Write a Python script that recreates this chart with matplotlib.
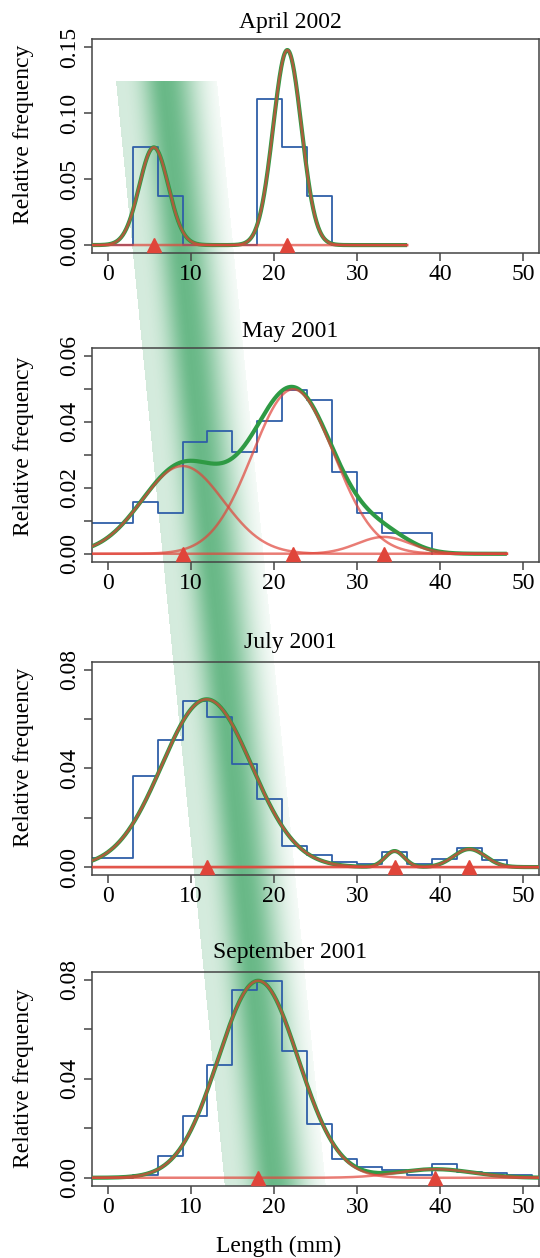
import numpy as np
import matplotlib
matplotlib.use("Agg")
import matplotlib.pyplot as plt

plt.rcParams["font.family"] = ["Liberation Serif", "DejaVu Serif"]

BIN_WIDTH = 3
titles = ["April 2002", "May 2001", "July 2001", "September 2001"]

# relative frequency of each 3 mm length class, first class starts at *_start
april_start = 0
april_freq = [0.0, 0.0742, 0.0374, 0.0, 0.0, 0.0, 0.111, 0.0742, 0.0374]
may_start = -3
may_freq = [0.0094, 0.0094, 0.0157, 0.0123, 0.0340, 0.0372, 0.0310, 0.0403,
            0.0496, 0.0465, 0.0249, 0.0124, 0.0063, 0.0063]
july_start = -3
july_freq = [0.0038, 0.0038, 0.0367, 0.0515, 0.0672, 0.0608, 0.0418, 0.0277,
             0.0085, 0.0047, 0.0020, 0.0011, 0.0061, 0.0011, 0.0032, 0.0078,
             0.0027, 0.0004]
sept_start = -3
sept_freq = [0.0, 0.0, 0.0010, 0.0088, 0.0248, 0.0455, 0.0757, 0.0793, 0.0510,
             0.0218, 0.0075, 0.0043, 0.0031, 0.0010, 0.0054, 0.0022, 0.0019,
             0.0010]

# fitted normal components (mean, sd, proportion)
april_means = [5.55, 21.6]
april_sds = [1.75, 1.7]
april_props = [0.325, 0.63]
may_means = [9.0, 22.3, 33.2]
may_sds = [4.9, 4.9, 3.2]
may_props = [0.327, 0.613, 0.041]
july_means = [11.9, 34.5, 43.5]
july_sds = [5.4, 1.15, 1.9]
july_props = [0.920, 0.0187, 0.0348]
sept_means = [18.1, 39.4]
sept_sds = [4.8, 4.5]
sept_props = [0.957, 0.039]

curve_end = [36, 48, 53, 53]

y_limits = [(-0.006, 0.156), (-0.0024, 0.0625), (-0.0032, 0.0832), (-0.0032, 0.0832)]
y_ticks = [[0, 0.05, 0.10, 0.15],
           [0, 0.01, 0.02, 0.03, 0.04, 0.05, 0.06],
           [0, 0.02, 0.04, 0.06, 0.08],
           [0, 0.02, 0.04, 0.06, 0.08]]
y_ticklabels = [["0.00", "0.05", "0.10", "0.15"],
                ["0.00", "", "0.02", "", "0.04", "", "0.06"],
                ["0.00", "", "0.04", "", "0.08"],
                ["0.00", "", "0.04", "", "0.08"]]

panels = [
    (april_start, april_freq, april_means, april_sds, april_props),
    (may_start, may_freq, may_means, may_sds, may_props),
    (july_start, july_freq, july_means, july_sds, july_props),
    (sept_start, sept_freq, sept_means, sept_sds, sept_props),
]

W, H = 540, 1258
BLUE = "#2f5fa8"
GREEN = "#2e9a44"
RED = "#e0453a"
AXC = "#444444"

# panel boxes in pixels (top, bottom)
boxes = [(39.3, 253.0), (347.7, 561.7), (661.7, 875.0), (971.7, 1185.7)]
title_base = [28.3, 336.7, 648.3, 958.3]
ylab_mid = [134, 446, 757.5, 1078]
left_px, right_px = 91.7, 539.3


def normal(x, m, s):
    return np.exp(-0.5 * ((x - m) / s) ** 2) / (s * np.sqrt(2 * np.pi))


fig = plt.figure(figsize=(W / 100, H / 100), dpi=100)

# shaded diagonal band behind the panels
bg = fig.add_axes([0, 0, 1, 1], zorder=0)
bg.set_xlim(0, W)
bg.set_ylim(H, 0)
bg.axis("off")
yy, xx = np.mgrid[0:H, 0:W] + 0.5
band_top, band_bot, band_w = 81, 1186, 101
x_left = 116 + 0.0985 * (yy - band_top)
t = (xx - x_left) / band_w
sd = np.where(t < 0.49, 0.17, 0.22)
alpha = 0.2 * np.clip(1 - t / 0.5, 0, 1) + 0.72 * np.exp(-0.5 * ((t - 0.49) / sd) ** 2)
inside = (t >= 0) & (t <= 1) & (yy >= band_top) & (yy <= band_bot)
img = np.zeros((H, W, 4))
img[..., 0] = 48 / 255
img[..., 1] = 158 / 255
img[..., 2] = 90 / 255
img[..., 3] = np.where(inside, np.clip(alpha, 0, 1), 0)
bg.imshow(img, extent=(0, W, H, 0), interpolation="bilinear", aspect="auto")

for i, (start, freq, means, sds, props) in enumerate(panels):
    top, bot = boxes[i]
    ax = fig.add_axes([left_px / W, 1 - bot / H, (right_px - left_px) / W, (bot - top) / H],
                      zorder=1)
    ax.set_facecolor("none")

    edges = start + BIN_WIDTH * np.arange(len(freq) + 1)
    xs = np.repeat(edges, 2)
    ys = np.concatenate([[0], np.repeat(freq, 2), [0]])
    ax.plot(xs, ys, color=BLUE, lw=1.3, zorder=2)

    x = np.linspace(-3, curve_end[i], 800)
    comps = [p * normal(x, m, s) for m, s, p in zip(means, sds, props)]
    ax.plot(x, np.sum(comps, axis=0), color=GREEN, lw=3.0, zorder=3,
            solid_capstyle="butt")
    for c in comps:
        ax.plot(x, c, color=RED, lw=1.8, alpha=0.7, zorder=4)
    ax.plot(means, np.zeros(len(means)), "^", color=RED, ms=10, mec=RED,
            zorder=5)

    ax.set_xlim(-1.92, 51.9)
    ax.set_ylim(*y_limits[i])
    ax.set_xticks([0, 10, 20, 30, 40, 50])
    ax.set_yticks(y_ticks[i])
    ax.set_yticklabels(y_ticklabels[i])
    ax.tick_params(direction="out", length=6, width=1.1, color=AXC,
                   labelsize=17, pad=2)
    plt.setp(ax.get_yticklabels(), rotation=90, va="center")
    for sp in ax.spines.values():
        sp.set_color(AXC)
        sp.set_linewidth(1.1)

    fig.text(290 / W, 1 - title_base[i] / H, titles[i], ha="center",
             va="baseline", fontsize=17)
    fig.text(23.5 / W, 1 - ylab_mid[i] / H, "Relative frequency", ha="center",
             va="center", rotation=90, fontsize=17)

fig.text(279 / W, 1 - 1252 / H, "Length (mm)", ha="center", va="baseline",
         fontsize=17)

fig.savefig("out.png", dpi=100)
